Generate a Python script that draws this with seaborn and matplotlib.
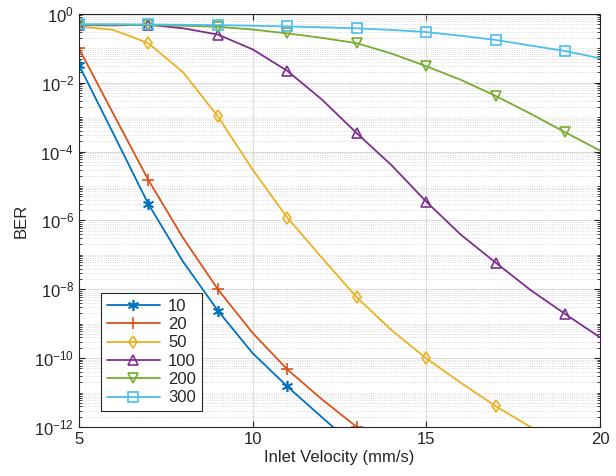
"""
BER versus inlet velocity for several channel lengths.
"""

import matplotlib
matplotlib.use("Agg")
import matplotlib.pyplot as plt
import numpy as np
import pandas as pd
import seaborn as sns
from matplotlib.ticker import LogLocator, NullFormatter


VELOCITY: list[int] = list(range(5, 21))

LABELS: list[str] = ["10", "20", "50", "100", "200", "300"]

BER_10: list[float] = [
    3.3e-2, 3.2e-4, 3.0e-6, 6.3e-8, 2.4e-9, 1.4e-10, 1.5e-11, 1.9e-12, 2.5e-13
]
BER_20: list[float] = [
    1.0e-1, 1.2e-3, 1.5e-5, 3.1e-7, 1.0e-8, 5.4e-10, 4.7e-11, 6.3e-12,
    1.0e-12, 1.5e-13
]
BER_50: list[float] = [
    0.43, 0.34, 0.14, 0.02, 1.05e-3, 3.0e-5, 1.2e-6, 8.1e-8, 5.8e-9,
    6.5e-10, 9.8e-11, 1.9e-11, 4.0e-12, 1.0e-12, 2.5e-13
]
BER_100: list[float] = [
    0.47, 0.46, 0.48, 0.38, 0.25, 0.093, 0.022, 3.2e-3, 3.4e-4, 4.0e-5,
    3.5e-6, 3.8e-7, 5.9e-8, 9.5e-9, 1.9e-9, 4.0e-10
]
BER_200: list[float] = [
    0.48, 0.48, 0.47, 0.45, 0.42, 0.35, 0.27, 0.2, 0.14, 0.07, 0.03,
    0.012, 4.1e-3, 1.26e-3, 3.6e-4, 1.07e-4
]
BER_300: list[float] = [
    0.5, 0.5, 0.49, 0.48, 0.47, 0.45, 0.43, 0.405, 0.38, 0.34, 0.295,
    0.23, 0.174, 0.12, 0.083, 0.051
]

COLORS: list[str] = [
    "#0072BD", "#D95319", "#EDB120", "#7E2F8E", "#77AC30", "#4DBEEE"
]
# asterisk like MATLAB's '*': six spokes
MARKERS: list = [(6, 2, 0), "+", "d", "^", "v", "s"]


def main() -> None:
    sns.set_style("ticks")
    plt.rcParams["font.family"] = ["Liberation Sans", "DejaVu Sans"]
    plt.rcParams["mathtext.fontset"] = "custom"
    plt.rcParams["mathtext.rm"] = "Liberation Sans"

    fig = plt.figure(figsize=(6.16, 4.76), dpi=100)
    ax = fig.add_axes([0.128, 0.103, 0.846, 0.868])

    series = [BER_10, BER_20, BER_50, BER_100, BER_200, BER_300]
    for label, values, color, marker in zip(LABELS, series, COLORS, MARKERS):
        frame = pd.DataFrame({
            "Velocity": VELOCITY[:len(values)],
            "BER": values,
        })
        sns.lineplot(
            data=frame, x="Velocity", y="BER", ax=ax,
            color=color, marker=marker, markevery=2,
            markersize=8 if label in ("10", "20") else 6.5,
            markerfacecolor="none", markeredgecolor=color,
            markeredgewidth=1.2, linewidth=1.3, label=label,
        )

    ax.set_yscale("log")
    ax.set_xlim(5, 20)
    ax.set_ylim(1e-12, 1)
    ax.set_xticks([5, 10, 15, 20])
    ax.set_yticks([10.0 ** k for k in range(-12, 1, 2)])
    ax.yaxis.set_minor_locator(
        LogLocator(base=10, subs=np.arange(1, 10), numticks=100)
    )
    ax.yaxis.set_minor_formatter(NullFormatter())

    ax.grid(which="major", color="#dcdcdc", linewidth=0.8, linestyle="-")
    ax.grid(which="minor", axis="y", color="#d0d0d0", linewidth=0.6,
            linestyle=":")
    ax.set_axisbelow(True)

    ax.tick_params(which="both", direction="in", top=True, right=True,
                   labelsize=12, colors="#262626")
    ax.tick_params(which="major", length=4, width=0.8)
    ax.tick_params(which="minor", length=2, width=0.6)
    for spine in ax.spines.values():
        spine.set_color("#262626")
        spine.set_linewidth(0.8)

    ax.set_xlabel("Inlet Velocity (mm/s)", fontsize=12, color="#262626",
                  labelpad=2)
    ax.set_ylabel("BER", fontsize=12, color="#262626", labelpad=4)

    legend = ax.legend(
        loc="lower left", bbox_to_anchor=(0.042, 0.038), fontsize=12,
        frameon=True, fancybox=False, framealpha=1, edgecolor="#262626",
        handlelength=3.2, borderpad=0.35, labelspacing=0.2,
        handletextpad=0.5, borderaxespad=0,
    )
    legend.get_frame().set_linewidth(0.8)

    fig.savefig("out.png", dpi=100)


if __name__ == "__main__":
    main()
